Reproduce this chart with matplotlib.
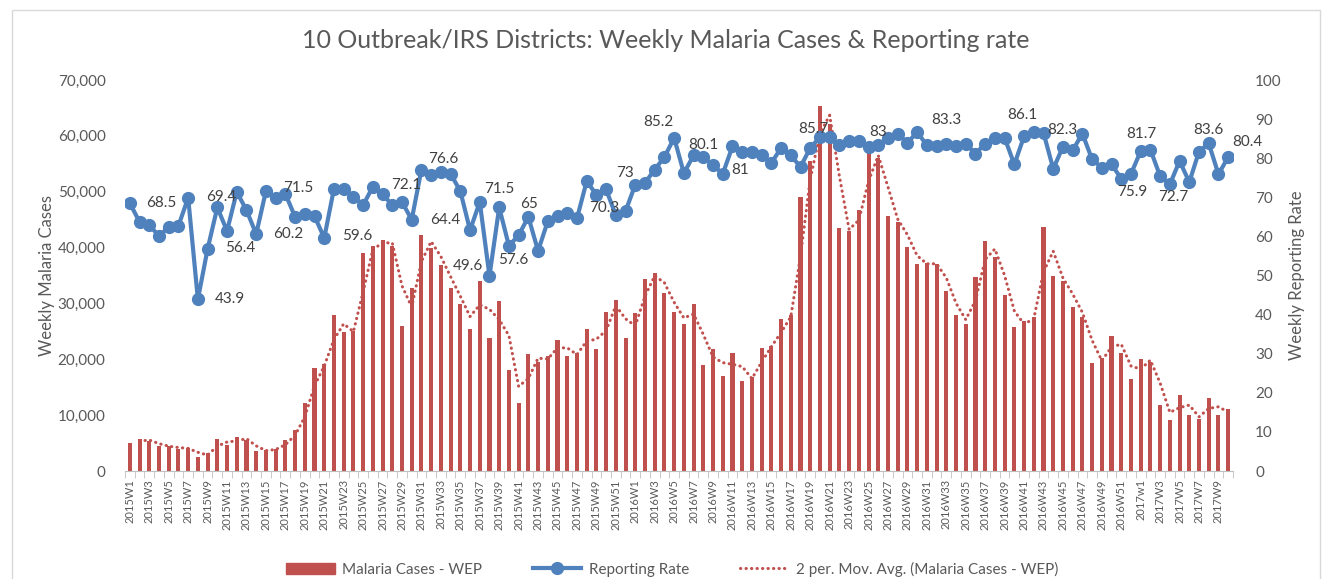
import numpy as np
import pandas as pd
import matplotlib
matplotlib.use('Agg')
import matplotlib.pyplot as plt
import matplotlib.patches as mpatches
from matplotlib.lines import Line2D
from matplotlib.ticker import FuncFormatter

plt.rcParams['font.family'] = ['Lato', 'DejaVu Sans']

# week labels 2015W1 .. 2017W10
weeks = ([f'2015W{i}' for i in range(1, 53)] +
         [f'2016W{i}' for i in range(1, 53)] +
         ['2017w1'] + [f'2017W{i}' for i in range(2, 11)])

cases = [
    5000, 5700, 5400, 4400, 4500, 3900, 4200, 2500, 3200, 5700,
    4700, 6100, 5500, 3500, 3800, 3900, 5500, 7300, 12100, 18400,
    19200, 27900, 24800, 25100, 39000, 40300, 41400, 40300, 26000, 32700,
    42300, 39900, 36900, 32700, 29900, 25400, 34100, 23800, 30400, 18100,
    12200, 20900, 19500, 20600, 23500, 20600, 21100, 25400, 21800, 28500,
    30700, 23800, 28200, 34400, 35500, 31900, 28500, 26300, 29900, 19000,
    21800, 17000, 21200, 16200, 16900, 22100, 22400, 27200, 28000, 49000,
    55500, 65300, 62100, 43500, 43000, 46800, 57000, 56000, 45700, 44500,
    40100, 37000, 37200, 37000, 32200, 27900, 26300, 34700, 41100, 38400,
    31600, 25700, 26900, 27600, 43700, 35000, 34100, 29300, 27500, 19300,
    20200, 24200, 21200, 16400, 20100, 19600, 11900, 9100, 13600, 10000,
    9400, 13000, 10000, 11100]

rate = [
    68.5, 63.7, 62.9, 60.1, 62.4, 62.7, 69.9, 43.9, 56.8, 67.4,
    61.4, 71.4, 66.7, 60.6, 71.6, 69.7, 70.9, 65.0, 65.8, 65.2,
    59.6, 72.2, 72.2, 70.2, 68.0, 72.7, 70.8, 68.0, 68.8, 64.3,
    77.1, 75.6, 76.5, 76.0, 71.6, 61.6, 68.8, 49.9, 67.4, 57.6,
    60.3, 65.0, 56.3, 63.9, 65.3, 66.0, 64.6, 74.1, 70.7, 72.0,
    65.4, 66.5, 73.2, 73.7, 77.1, 80.3, 85.2, 76.2, 80.7, 80.3,
    78.2, 76.0, 83.0, 81.6, 81.6, 80.7, 78.8, 82.6, 80.7, 77.8,
    82.6, 85.4, 85.4, 83.3, 84.3, 84.3, 82.9, 83.3, 85.2, 86.3,
    83.9, 86.7, 83.3, 83.0, 83.7, 83.0, 83.7, 81.2, 83.7, 85.2,
    85.2, 78.4, 85.6, 86.7, 86.5, 77.3, 82.9, 82.0, 86.3, 79.7,
    77.6, 78.4, 74.8, 76.0, 81.8, 82.2, 75.4, 73.3, 79.3, 73.9,
    81.7, 83.8, 75.9, 80.3]

# data labels on the reporting rate line: (week index, text, dx px, dy px, ha)
rate_labels = [
    (0, '68.5', 16, 0, 'left'), (7, '43.9', 17, 0, 'left'),
    (6, '69.4', 18, -1, 'left'), (8, '56.4', 18, -1, 'left'),
    (13, '60.2', 17, 0, 'left'), (14, '71.5', 17, -3, 'left'),
    (20, '59.6', 18, -2, 'left'), (25, '72.1', 18, -2, 'left'),
    (32, '76.6', 2, -13, 'center'), (29, '64.4', 18, 0, 'left'),
    (37, '49.6', -6, -10, 'right'), (38, '71.5', 0, -18, 'center'),
    (39, '57.6', 4, 14, 'center'), (41, '65', 1, -13, 'center'),
    (48, '70.3', 8, 13, 'center'), (52, '73', -10, -12, 'center'),
    (56, '85.2', -16, -16, 'center'), (59, '80.1', 0, -12, 'center'),
    (61, '81', 9, -4, 'left'), (71, '85.7', -7, -8, 'center'),
    (77, '83', 0, -13, 'center'), (84, '83.3', 0, -24, 'center'),
    (92, '86.1', -2, -21, 'center'), (96, '82.3', -1, -17, 'center'),
    (103, '75.9', 1, 18, 'center'), (104, '81.7', 1, -17, 'center'),
    (107, '72.7', 3, 13, 'center'), (111, '83.6', 0, -13, 'center'),
    (113, '80.4', 19, -15, 'center')]

red = '#C0504D'
blue = '#4F81BD'
txt = '#595959'
dots = (0, (0.1, 1.7))

mov_avg = pd.Series(cases).rolling(2).mean()
x = np.arange(len(weeks))

fig = plt.figure(figsize=(13.31, 5.79), dpi=100)
ax = fig.add_axes([0.0939, 0.1865, 0.8325, 0.6753])
ax2 = ax.twinx()

ax.bar(x, cases, width=0.42, color=red, zorder=2)
ax.plot(x, mov_avg, color=red, linestyle=dots, linewidth=2.2,
        dash_capstyle='round', zorder=3)
ax2.plot(x, rate, color=blue, linewidth=3, marker='o', markersize=8.5,
         zorder=4)

for idx, label, dx, dy, ha in rate_labels:
    ax2.annotate(label, (x[idx], rate[idx]), xytext=(dx, -dy),
                 textcoords='offset pixels', ha=ha, va='center',
                 fontsize=11, color='#404040', zorder=5)

ax.set_xlim(-0.5, len(weeks) - 0.5)
ax.set_ylim(0, 70000)
ax2.set_ylim(0, 100)
ax.set_yticks(np.arange(0, 70001, 10000))
ax2.set_yticks(np.arange(0, 101, 10))
ax.yaxis.set_major_formatter(FuncFormatter(lambda v, p: f'{int(v):,}'))

ax.set_xticks(x[::2])
ax.set_xticklabels(weeks[::2], rotation=90, fontsize=8, color=txt)
ax.set_xticks(np.arange(-0.5, len(weeks), 1), minor=True)
ax.tick_params(axis='x', which='major', length=0, pad=6)
ax.tick_params(axis='x', which='minor', length=5, color='#BFBFBF')
ax.tick_params(axis='y', length=0, labelsize=11, labelcolor=txt, pad=14)
ax2.tick_params(axis='y', length=0, labelsize=11, labelcolor=txt, pad=16)

for a in (ax, ax2):
    for s in ('top', 'left', 'right'):
        a.spines[s].set_visible(False)
ax2.spines['bottom'].set_visible(False)
ax.spines['bottom'].set_color('#BFBFBF')

ax.set_ylabel('Weekly Malaria Cases', fontsize=12, color=txt, labelpad=2)
ax2.set_ylabel('Weekly Reporting Rate', fontsize=12, color=txt, labelpad=5)

fig.text(0.5, 1 - 40 / 579, '10 Outbreak/IRS Districts: Weekly Malaria Cases & Reporting rate',
         ha='center', va='center', fontsize=18, color=txt)

handles = [mpatches.Patch(color=red),
           Line2D([0], [0], color=blue, linewidth=3, marker='o', markersize=8.5),
           Line2D([0], [0], color=red, linestyle=dots, linewidth=2.2,
                  dash_capstyle='round')]
labels = ['Malaria Cases - WEP', 'Reporting Rate',
          '2 per. Mov. Avg. (Malaria Cases - WEP)']
fig.legend(handles, labels, loc='center', bbox_to_anchor=(0.505, 1 - 569 / 579),
           ncol=3, frameon=False, fontsize=11, handlelength=3.2,
           handletextpad=0.5, columnspacing=3.3, labelcolor=txt)

# chart border
fig.add_artist(mpatches.Rectangle((12 / 1331, -0.1), 1308 / 1331, 1.1 - 10 / 579,
                                  transform=fig.transFigure, fill=False,
                                  edgecolor='#D9D9D9', linewidth=1))

fig.savefig('out.png', dpi=100)
